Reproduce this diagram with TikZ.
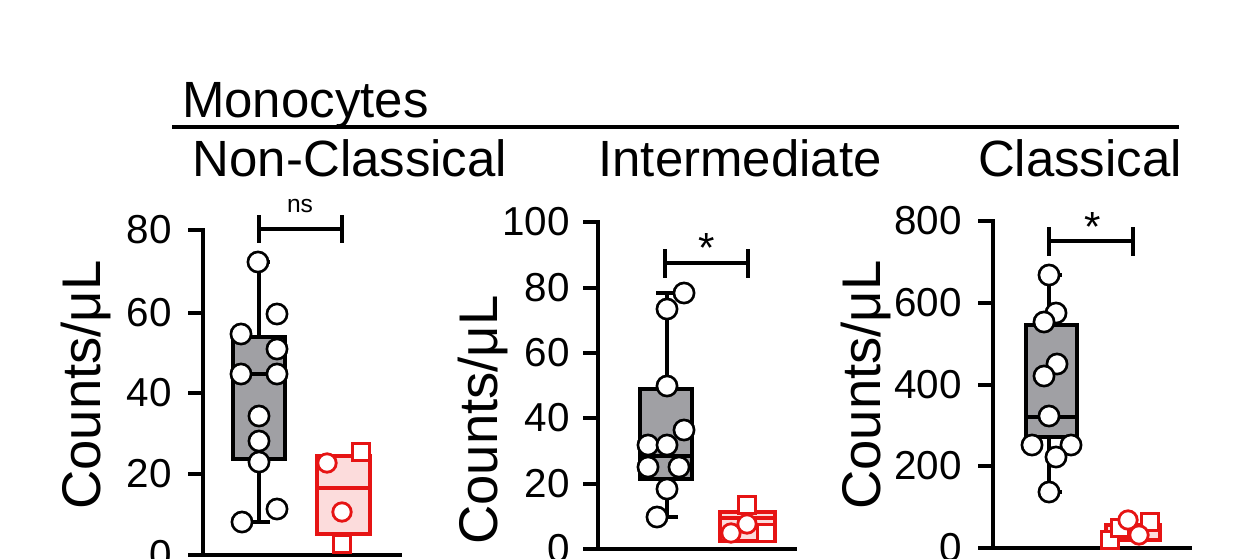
\documentclass[tikz,border=0pt]{standalone}
\usepackage{fontspec}
\setmainfont{Liberation Sans}
\usepackage{xcolor}
\definecolor{boxGrey}{RGB}{160,160,164}
\definecolor{ctrlRed}{RGB}{230,20,20}
\definecolor{ctrlPink}{RGB}{252,220,220}
\begin{document}
\begin{tikzpicture}[
    x=0.02cm, y=-0.02cm,
    axis/.style={line width=2.2pt, line cap=rect},
    whisk/.style={line width=2.8pt},
    greybox/.style={draw=black, fill=boxGrey, line width=2.8pt},
    redbox/.style={draw=ctrlRed, fill=ctrlPink, line width=2.2pt},
    dot/.style={circle, draw=black, fill=white, line width=1.5pt, minimum size=11.5pt, inner sep=0pt},
    rdot/.style={circle, draw=ctrlRed, fill=white, line width=1.6pt, minimum size=10.5pt, inner sep=0pt},
    rsq/.style={rectangle, draw=ctrlRed, fill=white, line width=1.6pt, minimum size=10pt, inner sep=0pt},
    tick/.style={font=\fontsize{23}{23}\selectfont, anchor=east},
    ylab/.style={font=\fontsize{31}{31}\selectfont, rotate=90},
    title/.style={font=\fontsize{29}{29}\selectfont},
    sig/.style={line width=1.8pt}
]
\useasboundingbox (0,0) rectangle (1241,558);

% Header
\node[title, anchor=base west] (mono) at (176,117) {Monocytes};
\draw[line width=2.4pt] (172,127) coordinate (hl) -- (1179,127) coordinate (hr);
\node[title, anchor=base] (tnc) at (350,176) {Non-Classical};
\node[title, anchor=base] (tint) at (740,176) {Intermediate};
\node[title, anchor=base] (tcl) at (1080,176) {Classical};

% Panel 1: Non-Classical
\draw[axis] (203,230) -- (203,555) -- (400,555);
\foreach \v/\y in {80/230,60/313,40/393,20/474,0/555}{
  \draw[axis] (190,\y) -- (203,\y);
  \node[tick] at (178,\y) {\v};
}
\node[ylab] (yl1) at (86,385) {Counts/μL};
\draw[whisk] (259,262) -- (259,522);
\draw[whisk] (248,262) -- (270,262);
\draw[whisk] (248,522) -- (270,522);
\draw[greybox] (233,337) rectangle (285,459);
\draw[whisk] (233,374) -- (285,374);
\foreach \x/\y in {258/262,277/314,241/334,277/349,241/374,277/374,259/416,259/441,259/462,277/509,242/522}
  \node[dot] at (\x,\y) {};
\draw[ctrlRed, line width=2.2pt] (342,454) -- (342,545);
\draw[redbox] (317,456) rectangle (370,534);
\draw[ctrlRed, line width=2.2pt] (317,488) -- (370,488);
\node[rsq] at (361,452) {};
\node[rsq] at (342,544) {};
\node[rdot] at (327,463) {};
\node[rdot] at (342,512) {};
\draw[sig] (259,215) coordinate (s1a) -- (259,243);
\draw[sig] (342,215) coordinate (s1b) -- (342,243);
\draw[sig] (259,229) -- (342,229);
\node[font=\fontsize{14}{14}\selectfont] (ns) at (300,206) {ns};

% Panel 2: Intermediate
\draw[axis] (598,222) -- (598,549) -- (795,549);
\foreach \v/\y in {100/222,80/288,60/353,40/418,20/484,0/549}{
  \draw[axis] (585,\y) -- (598,\y);
  \node[tick] at (576,\y) {\v};
}
\node[ylab] (yl2) at (483,420) {Counts/μL};
\draw[whisk] (667,293) -- (667,517);
\draw[whisk] (656,293) -- (684,293);
\draw[whisk] (656,517) -- (678,517);
\draw[greybox] (640,389) rectangle (692,479);
\draw[whisk] (640,456) -- (692,456);
\foreach \x/\y in {667/309,684/293,667/386,648/445,684/430,667/445,648/467,679/467,667/489,657/517}
  \node[dot] at (\x,\y) {};
\draw[redbox] (720,512) rectangle (775,541);
\draw[ctrlRed, line width=2.2pt] (720,518) -- (775,518);
\node[rsq] at (747,505) {};
\node[rsq] at (766,533) {};
\node[rdot] at (731,533) {};
\node[rdot] at (747,524) {};
\draw[sig] (665,249) -- (665,278);
\draw[sig] (748,249) -- (748,278);
\draw[sig] (665,263) -- (748,263);
\node[font=\fontsize{24}{24}\selectfont] (st2) at (707,248) {*};

% Panel 3: Classical
\draw[axis] (993,221) -- (993,548) -- (1190,548);
\foreach \v/\y in {800/221,600/303,400/385,200/466,0/548}{
  \draw[axis] (980,\y) -- (993,\y);
  \node[tick] at (968,\y) {\v};
}
\node[ylab] (yl3) at (866,385) {Counts/μL};
\draw[whisk] (1049,275) -- (1049,492);
\draw[whisk] (1038,275) -- (1062,275);
\draw[whisk] (1038,492) -- (1062,492);
\draw[greybox] (1026,325) rectangle (1077,437);
\draw[whisk] (1026,417) -- (1077,417);
\foreach \x/\y in {1049/275,1056/313,1044/322,1057/364,1044/376,1049/416,1032/445,1071/445,1056/457,1049/492}
  \node[dot] at (\x,\y) {};
\draw[redbox] (1106,525) rectangle (1160,540);
\node[rsq] at (1150,522) {};
\node[rsq] at (1110,540) {};
\node[rsq] at (1120,528) {};
\node[rdot] at (1128,520) {};
\node[rdot] at (1139,535) {};
\draw[sig] (1049,227) -- (1049,256);
\draw[sig] (1133,227) -- (1133,256);
\draw[sig] (1049,241) -- (1133,241);
\node[font=\fontsize{24}{24}\selectfont] (st3) at (1093,227) {*};
\end{tikzpicture}
\end{document}
